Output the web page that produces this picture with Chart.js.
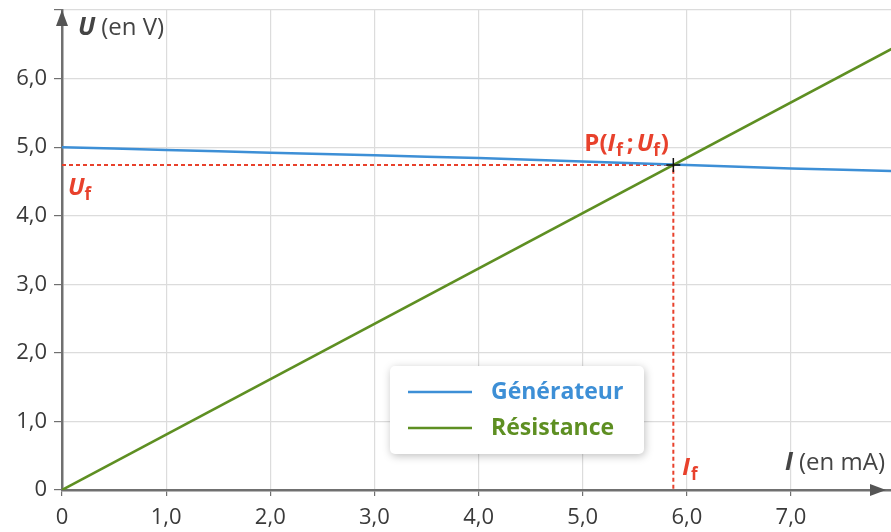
<!DOCTYPE html>
<html><head><meta charset="utf-8">
<script src="https://cdn.jsdelivr.net/npm/chart.js@4"></script>
<style>html,body{margin:0;padding:0;background:#fff}#wrap{width:891px;height:532px;position:relative}</style>
</head><body><div id="wrap"><canvas id="c" width="891" height="532"></canvas></div>
<script>
// Data
const genI = [0, 1, 2, 3, 4, 5, 6, 7, 8];
const genU = [5.00, 4.96, 4.92, 4.88, 4.84, 4.79, 4.74, 4.69, 4.65];
const resI = [0, 8];
const resU = [0, 6.46];
const If = 5.87;
const Uf = 4.74;
const xTickLabels = ['0', '1,0', '2,0', '3,0', '4,0', '5,0', '6,0', '7,0'];
const yTickLabels = ['0', '1,0', '2,0', '3,0', '4,0', '5,0', '6,0'];
const seriesNames = ['Générateur', 'Résistance'];

const FONT = '"Open Sans", sans-serif';
const BLUE = '#3d8fd6', GREEN = '#5e8f22', RED = '#e8412c', AX = '#707070', TXT = '#3a3a3a';

const pts = (xs, ys) => xs.map((x, i) => ({x, y: ys[i]}));

const overlay = {
  id: 'overlay',
  afterDatasetsDraw(chart) {
    const {ctx, scales: {x, y}, chartArea: a} = chart;
    ctx.save();
    // axes arrows
    ctx.fillStyle = '#555';
    ctx.beginPath();
    ctx.moveTo(a.left, a.top); ctx.lineTo(a.left - 6, a.top + 16); ctx.lineTo(a.left + 6, a.top + 16); ctx.closePath(); ctx.fill();
    const yb = y.getPixelForValue(0);
    ctx.beginPath();
    ctx.moveTo(a.right - 5, yb); ctx.lineTo(a.right - 21, yb - 6); ctx.lineTo(a.right - 21, yb + 6); ctx.closePath(); ctx.fill();
    // axis titles
    const rich = (parts, px, py) => {
      let cx = px;
      for (const p of parts) {
        ctx.font = p.f; ctx.fillStyle = p.c;
        ctx.fillText(p.t, cx, py + (p.dy || 0));
        cx += ctx.measureText(p.t).width + (p.gap || 0);
      }
    };
    ctx.textBaseline = 'alphabetic'; ctx.textAlign = 'left';
    rich([{t: 'U', f: 'italic bold 25px ' + FONT, c: '#444', gap: 6}, {t: '(en V)', f: '24px ' + FONT, c: '#444'}], a.left + 16, 35);
    rich([{t: 'I', f: 'italic bold 25px ' + FONT, c: '#444', gap: 6}, {t: '(en mA)', f: '24px ' + FONT, c: '#444'}], x.getPixelForValue(7) - 6, yb - 20);
    // red labels
    const xp = x.getPixelForValue(If), yp = y.getPixelForValue(Uf);
    const sub = 'bold 17px ' + FONT, big = 'italic bold 24px ' + FONT, nb = 'bold 24px ' + FONT;
    rich([{t: 'U', f: big, c: RED, gap: 0}, {t: 'f', f: sub, c: RED, dy: 5}], a.left + 6, yp + 30);
    rich([{t: 'I', f: big, c: RED, gap: 1}, {t: 'f', f: sub, c: RED, dy: 5}], xp + 9, yb - 15);
    rich([{t: 'P(', f: nb, c: RED}, {t: 'I', f: big, c: RED, gap: 1}, {t: 'f', f: sub, c: RED, dy: 5, gap: 4},
          {t: ';', f: nb, c: RED, gap: 3}, {t: 'U', f: big, c: RED, gap: 0}, {t: 'f', f: sub, c: RED, dy: 5, gap: 1}, {t: ')', f: nb, c: RED}], xp - 89, yp - 14);
    // cross at P
    ctx.strokeStyle = '#111'; ctx.lineWidth = 1.5;
    ctx.beginPath(); ctx.moveTo(xp - 7, yp); ctx.lineTo(xp + 7, yp); ctx.moveTo(xp, yp - 7); ctx.lineTo(xp, yp + 7); ctx.stroke();
    // legend box
    const lx = 390, ly = 366, lw = 254, lh = 88;
    ctx.shadowColor = 'rgba(0,0,0,0.25)'; ctx.shadowBlur = 8; ctx.shadowOffsetX = 1; ctx.shadowOffsetY = 2;
    ctx.fillStyle = '#fff';
    ctx.beginPath(); ctx.roundRect(lx, ly, lw, lh, 5); ctx.fill();
    ctx.shadowColor = 'transparent';
    const items = [[BLUE, seriesNames[0], 392], [GREEN, seriesNames[1], 428]];
    for (const [c, t, yy] of items) {
      ctx.strokeStyle = c; ctx.lineWidth = 2.5;
      ctx.beginPath(); ctx.moveTo(408, yy); ctx.lineTo(472, yy); ctx.stroke();
      ctx.fillStyle = c; ctx.font = 'bold 23px ' + FONT; ctx.textBaseline = 'middle';
      ctx.fillText(t, 491, yy);
    }
    ctx.restore();
  }
};

new Chart(document.getElementById('c'), {
  type: 'scatter',
  data: {
    datasets: [
      {data: pts([0, If, If], [Uf, Uf, 0]), showLine: true, borderColor: RED, borderWidth: 2, borderDash: [4, 3], pointRadius: 0, order: 3},
      {data: pts(genI, genU), showLine: true, borderColor: BLUE, borderWidth: 2.5, pointRadius: 0, tension: 0.3, order: 2},
      {data: pts(resI, resU), showLine: true, borderColor: GREEN, borderWidth: 2.5, pointRadius: 0, order: 1}
    ]
  },
  options: {
    responsive: false, animation: false, devicePixelRatio: 1,
    layout: {padding: {top: 10, right: 0, left: 0, bottom: 0}},
    plugins: {legend: {display: false}, tooltip: {enabled: false}},
    scales: {
      x: {
        type: 'linear', min: 0, max: 7.96,
        afterFit: s => { s.height = 42; s.paddingLeft = 0; s.paddingRight = 0; },
        afterBuildTicks: s => { s.ticks = xTickLabels.map((_, i) => ({value: i})); },
        ticks: {callback: (v) => xTickLabels[v] ?? '', color: TXT, font: {family: FONT, size: 22}, padding: 9, maxRotation: 0, autoSkip: false},
        grid: {color: '#dcdcdc', lineWidth: 1.2, tickLength: 6, tickColor: AX, drawTicks: true},
        border: {color: AX, width: 2.5}
      },
      y: {
        type: 'linear', min: 0, max: 7,
        afterFit: s => { s.width = 62; s.paddingTop = 0; s.paddingBottom = 0; },
        afterBuildTicks: s => { s.ticks = [0,1,2,3,4,5,6,7].map(v => ({value: v})); },
        ticks: {callback: (v) => yTickLabels[v] ?? '', color: TXT, font: {family: FONT, size: 22}, padding: 7, autoSkip: false},
        grid: {color: '#dcdcdc', lineWidth: 1.2, tickLength: 8, tickColor: AX, drawTicks: true},
        border: {color: AX, width: 2.5}
      }
    }
  },
  plugins: [overlay]
});
</script></body></html>
